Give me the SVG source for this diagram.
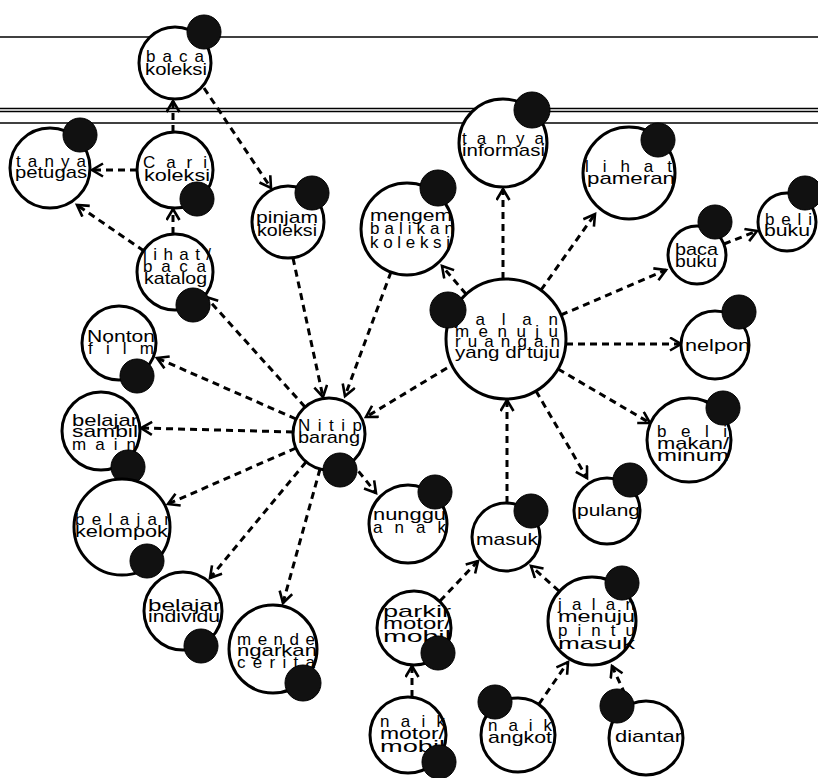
<svg xmlns="http://www.w3.org/2000/svg" width="818" height="778" viewBox="0 0 818 778">
<style>
.bg{fill:#fff}
.rule{stroke:#000;stroke-width:1.6}
.e{fill:none;stroke:#000;stroke-width:3;stroke-dasharray:7 5;marker-end:url(#ah)}
.c{fill:#fff;stroke:#000;stroke-width:3}
.d{fill:#111;stroke:#000;stroke-width:1}
text{font-family:"Liberation Sans",Arial,sans-serif;font-size:17px;fill:#000}
.s{}
</style>
<defs>
<marker id="ah" markerUnits="userSpaceOnUse" markerWidth="16" markerHeight="16" refX="12" refY="7.5" orient="auto">
<path d="M1,1 L12,7.5 L1,14" fill="none" stroke="#000" stroke-width="2.6"/>
</marker>
</defs>
<rect class="bg" width="818" height="778"/>
<g id="rules">
<line class="rule" x1="0" y1="37" x2="818" y2="37"/>
<line class="rule" x1="0" y1="108.5" x2="818" y2="108.5"/>
<line class="rule" x1="0" y1="111.5" x2="818" y2="111.5"/>
<line class="rule" x1="0" y1="123" x2="818" y2="123"/>
</g>
<g id="connectors">
<path class="e" d="M173,132 L173,101"/>
<path class="e" d="M137,170 L92,170"/>
<path class="e" d="M173,234 L173,209"/>
<path class="e" d="M144,251 L77,205"/>
<path class="e" d="M204,88 L271,188"/>
<path class="e" d="M305,407 L206,297"/>
<path class="e" d="M293,258 L323,397"/>
<path class="e" d="M391,272 L345,396"/>
<path class="e" d="M447,368 L366,417"/>
<path class="e" d="M296,419 L157,358"/>
<path class="e" d="M293,432 L141,428"/>
<path class="e" d="M296,448 L168,504"/>
<path class="e" d="M306,462 L210,578"/>
<path class="e" d="M320,469 L283,603"/>
<path class="e" d="M351,462 L376,493"/>
<path class="e" d="M466,294 L442,266"/>
<path class="e" d="M503,279 L503,189"/>
<path class="e" d="M541,290 L595,214"/>
<path class="e" d="M561,315 L666,270"/>
<path class="e" d="M724,244 L757,231"/>
<path class="e" d="M566,344 L681,344"/>
<path class="e" d="M558,369 L650,423"/>
<path class="e" d="M536,391 L587,478"/>
<path class="e" d="M507,503 L507,400"/>
<path class="e" d="M440,601 L478,561"/>
<path class="e" d="M559,591 L531,566"/>
<path class="e" d="M412,697 L412,666"/>
<path class="e" d="M539,704 L568,662"/>
<path class="e" d="M630,705 L612,666"/>
</g>
<g id="baca-koleksi">
<circle class="c" cx="175" cy="63" r="36"/>
<text x="146" y="62" textLength="58" lengthAdjust="spacing">baca</text>
<text x="145" y="75" textLength="62" lengthAdjust="spacingAndGlyphs">koleksi</text>
<circle class="d" cx="204" cy="32" r="17"/>
</g>
<g id="tanya-petugas">
<circle class="c" cx="50" cy="168" r="40"/>
<text x="16" y="167" textLength="70" lengthAdjust="spacing">tanya</text>
<text x="15" y="178" textLength="72" lengthAdjust="spacingAndGlyphs">petugas</text>
<circle class="d" cx="80" cy="135" r="17"/>
</g>
<g id="cari-koleksi">
<circle class="c" cx="175" cy="170" r="38"/>
<text x="143" y="168" textLength="64" lengthAdjust="spacing">Cari</text>
<text x="144" y="181" textLength="66" lengthAdjust="spacingAndGlyphs">koleksi</text>
<circle class="d" cx="197" cy="199" r="17"/>
</g>
<g id="lihat-baca-katalog">
<circle class="c" cx="175" cy="272" r="38"/>
<text x="143" y="260" textLength="68" lengthAdjust="spacing">lihat/</text>
<text x="143" y="272" textLength="63" lengthAdjust="spacing">baca</text>
<text x="144" y="284" textLength="63" lengthAdjust="spacingAndGlyphs">katalog</text>
<circle class="d" cx="193" cy="305" r="17"/>
</g>
<g id="pinjam-koleksi">
<circle class="c" cx="288" cy="222" r="36"/>
<text x="256" y="223" textLength="62" lengthAdjust="spacingAndGlyphs">pinjam</text>
<text x="257" y="236" textLength="60" lengthAdjust="spacingAndGlyphs">koleksi</text>
<circle class="d" cx="312" cy="193" r="17"/>
</g>
<g id="mengembalikan-koleksi">
<circle class="c" cx="407" cy="229" r="46"/>
<text x="370" y="221" textLength="82" lengthAdjust="spacingAndGlyphs">mengem</text>
<text x="370" y="234" textLength="84" lengthAdjust="spacing">balikan</text>
<text x="370" y="248" textLength="80" lengthAdjust="spacing">koleksi</text>
<circle class="d" cx="438" cy="188" r="18"/>
</g>
<g id="tanya-informasi">
<circle class="c" cx="503" cy="143" r="44"/>
<text x="462" y="144" textLength="82" lengthAdjust="spacing">tanya</text>
<text x="462" y="156" textLength="83" lengthAdjust="spacingAndGlyphs">informasi</text>
<circle class="d" cx="532" cy="110" r="18"/>
</g>
<g id="lihat-pameran">
<circle class="c" cx="629" cy="173" r="46"/>
<text x="585" y="172" textLength="87" lengthAdjust="spacing">lihat</text>
<text x="587" y="184" textLength="88" lengthAdjust="spacingAndGlyphs">pameran</text>
<circle class="d" cx="658" cy="140" r="17"/>
</g>
<g id="baca-buku">
<circle class="c" cx="697" cy="255" r="29"/>
<text x="675" y="255" textLength="43" lengthAdjust="spacingAndGlyphs">baca</text>
<text x="675" y="267" textLength="42" lengthAdjust="spacingAndGlyphs">buku</text>
<circle class="d" cx="715" cy="222" r="17"/>
</g>
<g id="beli-buku">
<circle class="c" cx="787" cy="222" r="29"/>
<text x="765" y="225" textLength="47" lengthAdjust="spacing">beli</text>
<text x="764" y="236" textLength="46" lengthAdjust="spacingAndGlyphs">buku</text>
<circle class="d" cx="805" cy="193" r="17"/>
</g>
<g id="jalan-menuju-ruangan">
<circle class="c" cx="506" cy="339" r="60"/>
<text x="455" y="325" textLength="103" lengthAdjust="spacing">jalan</text>
<text x="455" y="337" textLength="103" lengthAdjust="spacing">menuju</text>
<text x="455" y="347" textLength="105" lengthAdjust="spacing">ruangan</text>
<text x="455" y="358" textLength="105" lengthAdjust="spacingAndGlyphs">yang di tuju</text>
<circle class="d" cx="448" cy="310" r="18"/>
</g>
<g id="nitip-barang">
<circle class="c" cx="329" cy="434" r="36"/>
<text x="298" y="431" textLength="64" lengthAdjust="spacing">Nitip</text>
<text x="298" y="443" textLength="62" lengthAdjust="spacingAndGlyphs">barang</text>
<circle class="d" cx="340" cy="470" r="17"/>
</g>
<g id="nonton-film">
<circle class="c" cx="119" cy="343" r="37"/>
<text x="87" y="342" textLength="68" lengthAdjust="spacingAndGlyphs">Nonton</text>
<text x="88" y="354" textLength="66" lengthAdjust="spacing">film</text>
<circle class="d" cx="137" cy="376" r="17"/>
</g>
<g id="belajar-sambil-main">
<circle class="c" cx="101" cy="431" r="39"/>
<text x="72" y="426" textLength="66" lengthAdjust="spacingAndGlyphs">belajar</text>
<text x="72" y="437" textLength="66" lengthAdjust="spacingAndGlyphs">sambil</text>
<text x="72" y="450" textLength="64" lengthAdjust="spacing">main</text>
<circle class="d" cx="128" cy="467" r="17"/>
</g>
<g id="belajar-kelompok">
<circle class="c" cx="122" cy="527" r="48"/>
<text x="75" y="525" textLength="95" lengthAdjust="spacing">belajar</text>
<text x="75" y="537" textLength="93" lengthAdjust="spacingAndGlyphs">kelompok</text>
<circle class="d" cx="147" cy="561" r="17"/>
</g>
<g id="belajar-individu">
<circle class="c" cx="183" cy="611" r="39"/>
<text x="148" y="611" textLength="73" lengthAdjust="spacingAndGlyphs">belajar</text>
<text x="148" y="622" textLength="72" lengthAdjust="spacingAndGlyphs">individu</text>
<circle class="d" cx="201" cy="646" r="17"/>
</g>
<g id="mendengarkan-cerita">
<circle class="c" cx="273" cy="649" r="44"/>
<text x="237" y="645" textLength="78" lengthAdjust="spacing">mende</text>
<text x="237" y="656" textLength="80" lengthAdjust="spacingAndGlyphs">ngarkan</text>
<text x="237" y="668" textLength="78" lengthAdjust="spacing">cerita</text>
<circle class="d" cx="303" cy="683" r="18"/>
</g>
<g id="nunggu-anak">
<circle class="c" cx="408" cy="524" r="39"/>
<text x="373" y="520" textLength="73" lengthAdjust="spacingAndGlyphs">nunggu</text>
<text x="373" y="533" textLength="73" lengthAdjust="spacing">anak</text>
<circle class="d" cx="435" cy="492" r="17"/>
</g>
<g id="masuk">
<circle class="c" cx="506" cy="537" r="34"/>
<text x="476" y="545" textLength="62" lengthAdjust="spacingAndGlyphs">masuk</text>
<circle class="d" cx="531" cy="511" r="17"/>
</g>
<g id="pulang">
<circle class="c" cx="607" cy="511" r="33"/>
<text x="577" y="516" textLength="63" lengthAdjust="spacingAndGlyphs">pulang</text>
<circle class="d" cx="630" cy="480" r="17"/>
</g>
<g id="beli-makan-minum">
<circle class="c" cx="689" cy="440" r="42"/>
<text x="657" y="437" textLength="70" lengthAdjust="spacing">beli</text>
<text x="657" y="449" textLength="72" lengthAdjust="spacingAndGlyphs">makan/</text>
<text x="657" y="461" textLength="72" lengthAdjust="spacingAndGlyphs">minum</text>
<circle class="d" cx="723" cy="408" r="17"/>
</g>
<g id="nelpon">
<circle class="c" cx="715" cy="345" r="34"/>
<text x="685" y="351" textLength="65" lengthAdjust="spacingAndGlyphs">nelpon</text>
<circle class="d" cx="739" cy="312" r="17"/>
</g>
<g id="parkir-motor-mobil">
<circle class="c" cx="414" cy="628" r="37"/>
<text x="383" y="617" textLength="68" lengthAdjust="spacingAndGlyphs">parkir</text>
<text x="383" y="629" textLength="68" lengthAdjust="spacingAndGlyphs">motor/</text>
<text x="383" y="642" textLength="68" lengthAdjust="spacingAndGlyphs">mobil</text>
<circle class="d" cx="438" cy="653" r="17"/>
</g>
<g id="jalan-menuju-pintu-masuk">
<circle class="c" cx="592" cy="621" r="44"/>
<text x="558" y="610" textLength="77" lengthAdjust="spacing">jalan</text>
<text x="558" y="622" textLength="77" lengthAdjust="spacingAndGlyphs">menuju</text>
<text x="558" y="636" textLength="77" lengthAdjust="spacing">pintu</text>
<text x="558" y="649" textLength="77" lengthAdjust="spacingAndGlyphs">masuk</text>
<circle class="d" cx="622" cy="583" r="17"/>
</g>
<g id="naik-motor-mobil">
<circle class="c" cx="408" cy="735" r="38"/>
<text x="380" y="727" textLength="65" lengthAdjust="spacing">naik</text>
<text x="380" y="739" textLength="65" lengthAdjust="spacingAndGlyphs">motor/</text>
<text x="380" y="752" textLength="65" lengthAdjust="spacingAndGlyphs">mobil</text>
<circle class="d" cx="439" cy="762" r="17"/>
</g>
<g id="naik-angkot">
<circle class="c" cx="518" cy="735" r="37"/>
<text x="488" y="731" textLength="64" lengthAdjust="spacing">naik</text>
<text x="488" y="743" textLength="64" lengthAdjust="spacingAndGlyphs">angkot</text>
<circle class="d" cx="495" cy="702" r="17"/>
</g>
<g id="diantar">
<circle class="c" cx="646" cy="738" r="37"/>
<text x="615" y="742" textLength="67" lengthAdjust="spacingAndGlyphs">diantar</text>
<circle class="d" cx="617" cy="706" r="17"/>
</g>
</svg>
